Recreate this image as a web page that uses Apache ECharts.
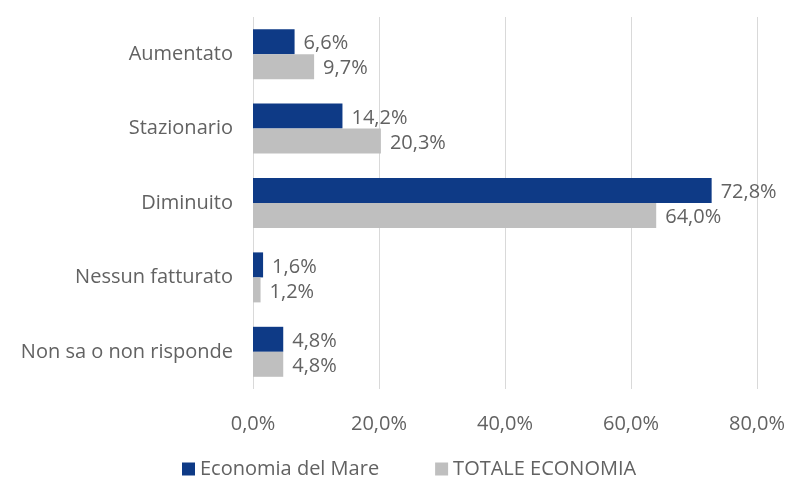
<!DOCTYPE html>
<html><head><meta charset="utf-8">
<script src="https://cdn.jsdelivr.net/npm/echarts@6/dist/echarts.min.js"></script>
<style>html,body{margin:0;padding:0;background:#fff}#c{width:790px;height:483px}</style>
</head><body><div id="c"></div>
<script>
const categories = ["Aumentato", "Stazionario", "Diminuito", "Nessun fatturato", "Non sa o non risponde"];
const seriesNames = ["Economia del Mare", "TOTALE ECONOMIA"];
const mareValues = [6.6, 14.2, 72.8, 1.6, 4.8];
const totaleValues = [9.7, 20.3, 64.0, 1.2, 4.8];
const xTicks = [0, 20, 40, 60, 80];

const fmt = v => v.toFixed(1).replace('.', ',') + '%';
const font = '"Open Sans", "Noto Sans", sans-serif';
const txt = '#626262';
const chart = echarts.init(document.getElementById('c'), null, {renderer: 'canvas'});
chart.setOption({
  animation: false,
  textStyle: {fontFamily: font},
  grid: {left: 253, right: 33, top: 17, bottom: 94, containLabel: false},
  legend: {
    top: 454, left: 177, itemWidth: 13, itemHeight: 13, itemGap: 56,
    icon: 'rect',
    textStyle: {color: txt, fontSize: 20, fontFamily: font, padding: [0, 0, 0, 0]},
    data: seriesNames
  },
  xAxis: {
    type: 'value', min: xTicks[0], max: xTicks[xTicks.length - 1], interval: 20,
    axisLine: {show: false}, axisTick: {show: false},
    splitLine: {lineStyle: {color: '#D9D9D9', width: 1}},
    axisLabel: {color: txt, fontSize: 20, margin: 25, formatter: fmt}
  },
  yAxis: {
    type: 'category', inverse: true, data: categories,
    axisLine: {show: false}, axisTick: {show: false},
    axisLabel: {color: txt, fontSize: 20, margin: 20}
  },
  series: [
    {
      name: seriesNames[0], type: 'bar', data: mareValues,
      barWidth: 25, barGap: '0%',
      itemStyle: {color: '#0E3A86'},
      label: {show: true, position: 'right', distance: 9, offset: [0, 2], color: txt, fontSize: 20, formatter: p => fmt(p.value)}
    },
    {
      name: seriesNames[1], type: 'bar', data: totaleValues,
      barWidth: 25, barGap: '0%',
      itemStyle: {color: '#BFBFBF'},
      label: {show: true, position: 'right', distance: 9, offset: [0, 2], color: txt, fontSize: 20, formatter: p => fmt(p.value)}
    }
  ]
});
</script></body></html>
